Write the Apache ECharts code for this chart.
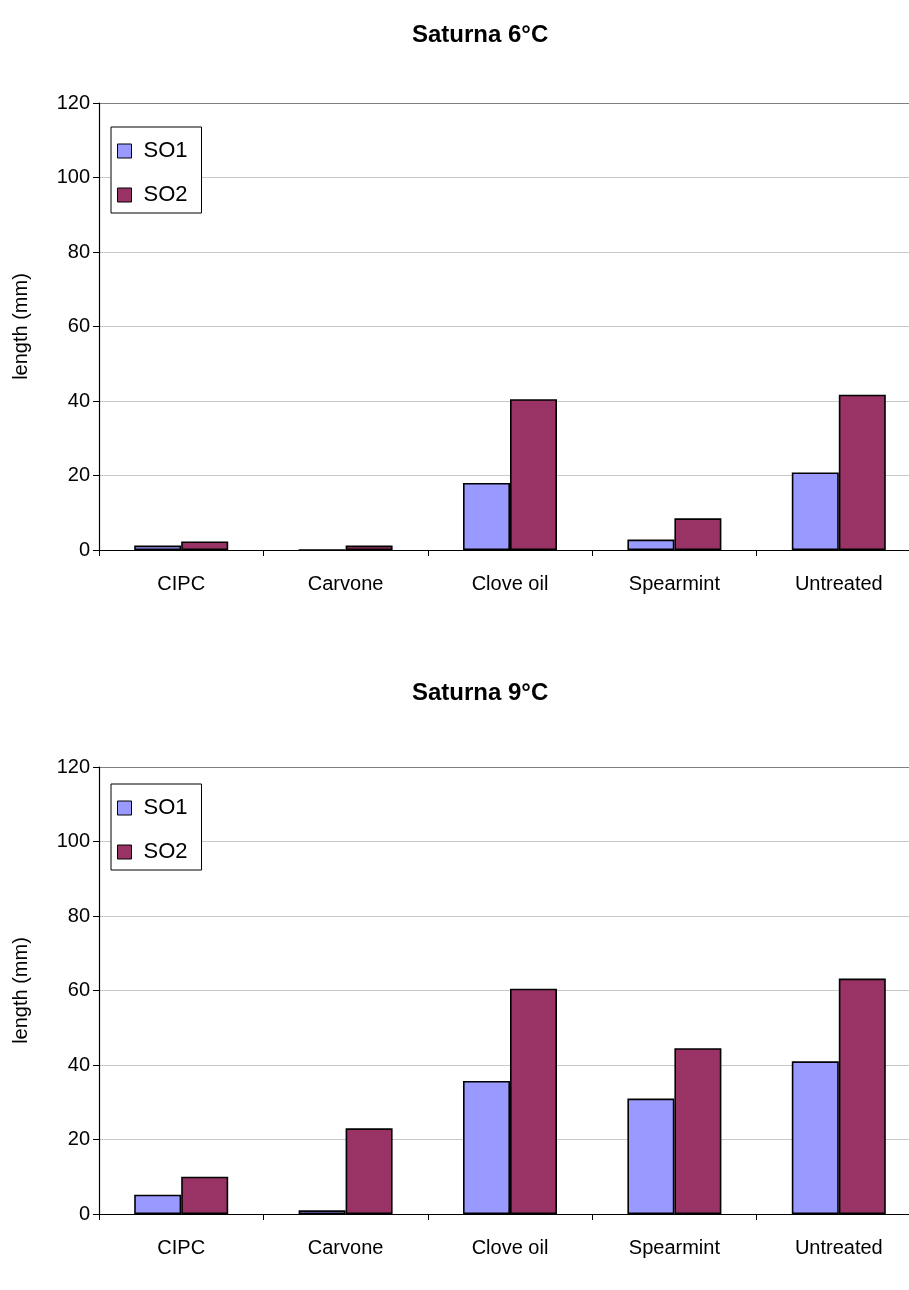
<!DOCTYPE html>
<html>
<head>
<meta charset="utf-8">
<script src="https://cdn.jsdelivr.net/npm/echarts@6/dist/echarts.min.js"></script>
<style>
html,body{margin:0;padding:0;background:#fff;overflow:hidden;width:909px;height:1290px;}
.c{position:absolute;left:0;width:925px;height:645px;}
</style>
</head>
<body>
<div id="c1" class="c" style="top:0"></div>
<div id="c2" class="c" style="top:645px"></div>
<script>
const categories = ['CIPC', 'Carvone', 'Clove oil', 'Spearmint', 'Untreated'];
const seriesNames = ['SO1', 'SO2'];
const titles = ['Saturna 6°C', 'Saturna 9°C'];
const yTicks = [0, 20, 40, 60, 80, 100, 120];
const so1_6C = [1.2, 0, 18, 2.8, 20.8];
const so2_6C = [2.3, 1.2, 40.5, 8.5, 41.7];
const so1_9C = [5.2, 1, 35.7, 31, 41];
const so2_9C = [10, 23, 60.5, 44.5, 63.2];

const colors = ['#9999FF', '#993366'];
const FONT = 'Liberation Sans, Arial, sans-serif';

function makeOption(title, s1, s2, gridTop, titleTop, legendTop) {
  return {
    animation: false,
    textStyle: { fontFamily: FONT },
    title: {
      text: title, left: 407, top: titleTop,
      textStyle: { fontFamily: FONT, fontWeight: 'bold', fontSize: 24, color: '#000' }
    },
    legend: {
      orient: 'vertical', left: 111, top: legendTop,
      data: seriesNames,
      icon: 'rect', itemWidth: 14, itemHeight: 14, itemGap: 22,
      padding: [13, 14, 7, 6],
      borderColor: '#000', borderWidth: 1, backgroundColor: '#fff',
      textStyle: { fontFamily: FONT, fontSize: 22, color: '#000', padding: [0, 0, 0, 7] },
      itemStyle: { borderColor: '#000', borderWidth: 1 }
    },
    grid: { left: 99, top: gridTop, width: 822, height: 447 },
    xAxis: {
      type: 'category', data: categories,
      axisLine: { lineStyle: { color: '#000', width: 1.2 } },
      axisTick: { show: true, length: 6, lineStyle: { color: '#000' } },
      axisLabel: { fontFamily: FONT, fontSize: 20, color: '#000', margin: 24 }
    },
    yAxis: {
      type: 'value', min: 0, max: 120, interval: 20,
      name: 'length (mm)', nameLocation: 'middle', nameGap: 68,
      nameTextStyle: { fontFamily: FONT, fontSize: 20, color: '#000' },
      axisLine: { show: true, lineStyle: { color: '#000', width: 1.2 } },
      axisTick: { show: true, length: 6, lineStyle: { color: '#000' } },
      axisLabel: { fontFamily: FONT, fontSize: 20, color: '#000', margin: 9,
        formatter: v => yTicks.includes(v) ? String(v) : '' },
      splitLine: { show: true, lineStyle: { color: ['#c8c8c8','#c8c8c8','#c8c8c8','#c8c8c8','#c8c8c8','#c8c8c8','#808080'], width: 1 } }
    },
    series: [
      { name: seriesNames[0], type: 'bar', data: s1, barWidth: 47, barGap: '0%',
        itemStyle: { color: colors[0], borderColor: '#000', borderWidth: 1.6 } },
      { name: seriesNames[1], type: 'bar', data: s2, barWidth: 47, barGap: '0%',
        itemStyle: { color: colors[1], borderColor: '#000', borderWidth: 1.6 } }
    ]
  };
}

const ch1 = echarts.init(document.getElementById('c1'), null, { renderer: 'canvas' });
ch1.setOption(makeOption(titles[0], so1_6C, so2_6C, 103, 18, 127));
const ch2 = echarts.init(document.getElementById('c2'), null, { renderer: 'canvas' });
ch2.setOption(makeOption(titles[1], so1_9C, so2_9C, 122, 31, 139));
</script>
</body>
</html>
